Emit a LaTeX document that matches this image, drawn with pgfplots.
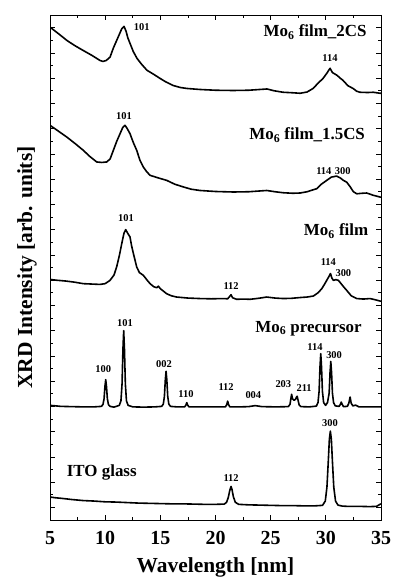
\documentclass[border=0pt]{standalone}
\usepackage{fontspec}
\setmainfont{Liberation Serif}
\usepackage{pgfplots}
\pgfplotsset{compat=1.18}
\tikzset{
 peak/.style={font=\fontsize{10.5}{11}\selectfont\bfseries, anchor=base, inner sep=0pt},
 ser/.style={font=\fontsize{17}{18}\selectfont\bfseries, inner sep=0pt},
 curve/.style={black, mark=none, line width=1.6bp, line join=round},
}
\begin{document}
\begin{tikzpicture}
\begin{axis}[name=ax, scale only axis, width=331bp, height=505bp,
 xmin=5, xmax=35, ymin=-0.5, ymax=19.5,
 xtick={5,10,...,35}, minor x tick num=1,
 ytick={0,1,...,19}, yticklabels={}, minor y tick num=1,
 tick align=inside, major tick length=5bp, minor tick length=3bp,
 axis line style={line width=0.8bp},
 every tick/.style={line width=0.7bp, black},
 /pgf/number format/assume math mode=true,
 xticklabel style={font=\fontsize{20}{20}\selectfont\bfseries, anchor=base, yshift=-24bp},
 xlabel={Wavelength [nm]}, ylabel={XRD Intensity [arb. units]},
 label style={font=\fontsize{21.5}{22}\selectfont\bfseries},
 xlabel style={at={(axis description cs:0.5,-0.103)}, anchor=base},
 ylabel style={at={(axis description cs:-0.054,0.5)}, anchor=base},
]
% Mo6 film_2CS
\addplot[curve] coordinates {(5,19.02) (5.5,18.85) (6,18.68) (6.51,18.5) (7.2,18.3) (7.99,18.1) (8.8,17.9) (9.53,17.7) (9.8,17.66) (10.1,17.7) (10.44,17.83) (10.75,18.2) (11.05,18.5) (11.3,18.75) (11.5,18.95) (11.71,19.05) (11.9,18.85) (12.05,18.6) (12.25,18.38) (12.55,18.05) (12.89,17.78) (13.3,17.55) (13.79,17.31) (14.4,17.15) (14.97,16.99) (15.5,16.85) (16.15,16.71) (16.8,16.63) (17.42,16.59) (18.6,16.55) (20,16.52) (21.59,16.51) (23.0,16.52) (24.0,16.55) (24.67,16.57) (25.3,16.5) (26.12,16.44) (27.0,16.42) (27.67,16.40) (28.3,16.45) (28.84,16.59) (29.3,16.8) (29.75,16.99) (30.1,17.2) (30.38,17.39) (30.6,17.22) (31.02,17.11) (31.3,17.0) (31.56,16.91) (32.0,16.7) (32.47,16.59) (32.8,16.48) (33.1,16.44) (33.8,16.43) (34.3,16.44) (34.92,16.40) (35,16.4)};
% Mo6 film_1.5CS
\addplot[curve] coordinates {(5,15.13) (5.5,14.98) (6.51,14.67) (7.3,14.4) (8.02,14.14) (8.6,13.9) (9.23,13.68) (9.7,13.66) (10.14,13.68) (10.45,13.8) (10.74,14.14) (11.05,14.5) (11.35,14.80) (11.6,15.05) (11.80,15.13) (12.0,15.0) (12.25,14.80) (12.55,14.45) (12.86,14.14) (13.15,13.75) (13.46,13.48) (13.75,13.3) (14.07,13.15) (14.8,13.05) (15.58,12.95) (16.3,12.8) (17.09,12.69) (17.8,12.6) (18.6,12.55) (20.0,12.51) (21.62,12.49) (23.0,12.5) (24.64,12.55) (25.4,12.5) (26.15,12.46) (27.0,12.44) (27.67,12.45) (28.3,12.5) (28.87,12.58) (29.17,12.62) (29.6,12.8) (30.08,12.95) (30.5,13.08) (30.98,13.12) (31.3,13.05) (31.59,12.95) (31.89,12.88) (32.2,12.7) (32.5,12.5) (32.8,12.42) (33.3,12.44) (33.71,12.45) (34.3,12.36) (34.92,12.29) (35,12.29)};
% Mo6 film
\addplot[curve] coordinates {(5,9.03) (5.5,9.0) (6.51,8.96) (7.2,8.92) (8.02,8.86) (9.0,8.84) (9.53,8.83) (10.0,8.86) (10.44,8.99) (10.8,9.2) (11.04,9.52) (11.3,10.0) (11.5,10.44) (11.7,10.85) (11.86,11.0) (12.05,10.85) (12.25,10.71) (12.4,10.35) (12.56,10.05) (12.86,9.52) (13.1,9.3) (13.46,9.19) (13.8,9.0) (14.07,8.86) (14.4,8.74) (14.67,8.70) (14.82,8.76) (15.0,8.66) (15.58,8.46) (16.0,8.38) (16.48,8.33) (17.5,8.29) (18.6,8.27) (19.6,8.26) (20.71,8.27) (21.1,8.26) (21.3,8.36) (21.41,8.42) (21.55,8.3) (21.92,8.24) (22.5,8.25) (23.13,8.24) (23.9,8.28) (24.64,8.33) (25.4,8.29) (26.15,8.27) (26.9,8.28) (27.67,8.31) (28.3,8.33) (28.87,8.37) (29.3,8.5) (29.63,8.66) (29.9,8.85) (30.08,8.99) (30.25,9.12) (30.42,9.26) (30.55,9.08) (30.69,8.99) (30.9,9.02) (31.14,8.99) (31.4,8.85) (31.6,8.74) (31.9,8.59) (32.3,8.38) (32.8,8.27) (33.4,8.25) (34.01,8.27) (34.5,8.22) (34.92,8.17) (35,8.17)};
% Mo6 precursor
\addplot[curve] coordinates {(5,4.04) (6,4.0) (7,3.99) (8,3.98) (9,3.98) (9.65,4.0) (9.8,4.07) (9.9,4.30) (9.98,4.79) (10.05,5.06) (10.12,4.79) (10.2,4.30) (10.3,4.07) (10.45,4.0) (10.8,3.97) (11.28,4.04) (11.43,4.22) (11.53,4.89) (11.61,6.25) (11.68,7.0) (11.75,6.25) (11.83,4.89) (11.93,4.22) (12.08,4.04) (12.5,3.98) (13.5,3.97) (14.5,3.98) (15.12,4.0) (15.27,4.09) (15.37,4.40) (15.45,5.04) (15.52,5.39) (15.59,5.04) (15.67,4.40) (15.77,4.09) (15.92,4.0) (16.5,3.98) (17.2,3.98) (17.32,4.05) (17.4,4.15) (17.48,4.05) (17.6,3.98) (18.5,3.98) (19.5,3.98) (20.9,3.98) (21.02,4.07) (21.1,4.21) (21.18,4.07) (21.3,3.98) (22.2,3.98) (23.0,3.99) (23.6,4.03) (24.2,3.99) (25.5,3.98) (26.6,3.99) (26.75,4.08) (26.83,4.3) (26.9,4.48) (26.98,4.3) (27.12,4.24) (27.25,4.28) (27.33,4.36) (27.4,4.40) (27.48,4.25) (27.58,4.06) (27.75,3.99) (28.5,3.98) (29.14,4.01) (29.29,4.15) (29.39,4.6) (29.47,5.56) (29.54,6.09) (29.61,5.56) (29.69,4.6) (29.8,4.15) (29.98,4.04) (30.15,4.15) (30.3,4.52) (30.38,5.33) (30.45,5.78) (30.52,5.33) (30.6,4.52) (30.7,4.15) (30.85,4.02) (31.2,4.0) (31.32,4.08) (31.4,4.17) (31.48,4.08) (31.6,3.99) (31.95,4.0) (32.08,4.12) (32.2,4.37) (32.3,4.12) (32.45,4.02) (32.7,4.05) (33,3.98) (34,3.98) (35,3.98)};
% ITO glass
\addplot[curve] coordinates {(5,0.41) (5.5,0.38) (6,0.36) (7,0.31) (8,0.27) (9,0.25) (10,0.22) (11,0.21) (12,0.19) (13,0.17) (14,0.16) (15,0.15) (16,0.14) (17,0.14) (18,0.13) (19,0.12) (20,0.12) (20.8,0.13) (21.0,0.2) (21.15,0.38) (21.3,0.68) (21.41,0.83) (21.5,0.7) (21.62,0.42) (21.8,0.2) (22.1,0.12) (23,0.1) (24,0.09) (25,0.08) (26,0.07) (27,0.07) (28,0.06) (29,0.06) (29.7,0.08) (29.95,0.25) (30.1,0.8) (30.22,1.8) (30.32,2.7) (30.41,3.02) (30.5,2.7) (30.6,1.8) (30.72,0.8) (30.88,0.25) (31.1,0.09) (31.5,0.05) (32,0.04) (33,0.04) (34,0.03) (34.6,0.04) (34.9,0.12) (35,0.14)};
% series labels
\node[ser, anchor=base east] at (axis cs:33.71,18.63) {Mo\textsubscript{6} film\_2CS};
\node[ser, anchor=base east] at (axis cs:33.56,14.56) {Mo\textsubscript{6} film\_1.5CS};
\node[ser, anchor=base east] at (axis cs:33.86,10.77) {Mo\textsubscript{6} film};
\node[ser, anchor=base east] at (axis cs:33.26,6.94) {Mo\textsubscript{6} precursor};
\node[ser, anchor=base west] at (axis cs:6.51,1.23) {ITO glass};
% peak labels
\node[peak] at (axis cs:13.31,18.89) {101};
\node[peak] at (axis cs:30.38,17.66) {114};
\node[peak] at (axis cs:11.71,15.37) {101};
\node[peak] at (axis cs:30.69,13.19) {114\,\,300};
\node[peak] at (axis cs:11.89,11.34) {101};
\node[peak] at (axis cs:30.23,9.56) {114};
\node[peak] at (axis cs:31.59,9.15) {300};
\node[peak] at (axis cs:21.41,8.63) {112};
\node[peak] at (axis cs:11.8,7.18) {101};
\node[peak] at (axis cs:9.83,5.33) {100};
\node[peak] at (axis cs:15.34,5.53) {002};
\node[peak] at (axis cs:17.33,4.37) {110};
\node[peak] at (axis cs:20.96,4.63) {112};
\node[peak] at (axis cs:23.43,4.32) {004};
\node[peak] at (axis cs:26.15,4.76) {203};
\node[peak] at (axis cs:28.03,4.58) {211};
\node[peak] at (axis cs:29.02,6.22) {114};
\node[peak] at (axis cs:30.75,5.9) {300};
\node[peak] at (axis cs:30.38,3.21) {300};
\node[peak] at (axis cs:21.41,1.02) {112};
\end{axis}
\pgfresetboundingbox
\path[use as bounding box] (ax.south west) ++(-50bp,-57bp) rectangle ([shift={(12bp,15bp)}]ax.north east);
\end{tikzpicture}
\end{document}
